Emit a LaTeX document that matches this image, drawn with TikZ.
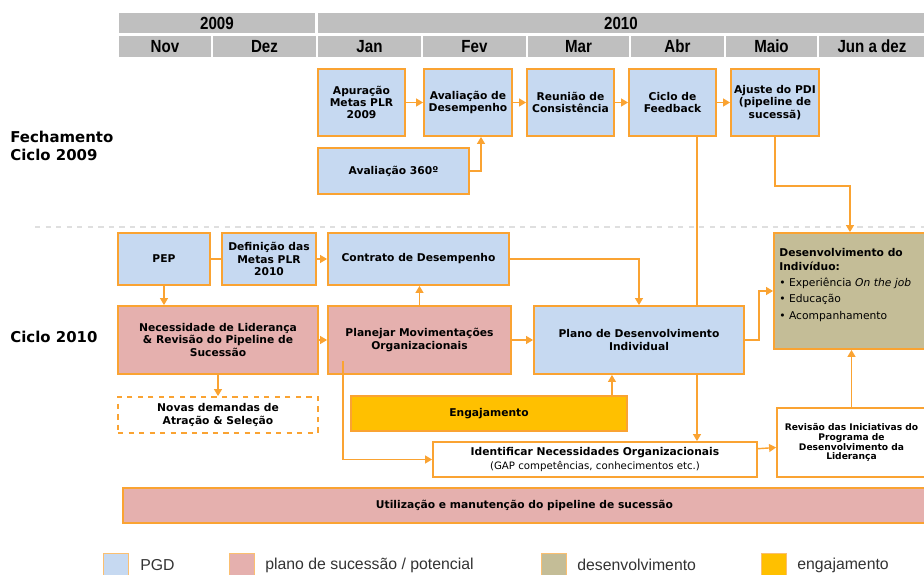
\documentclass[tikz,border=0pt]{standalone}
\usepackage{fontspec}
\setmainfont{DejaVu Sans}
\newfontfamily\hdrfont[FakeStretch=0.86]{Liberation Sans}
\newfontfamily\lgdfont{Liberation Sans}
\usetikzlibrary{arrows.meta,backgrounds}

\definecolor{pgdblue}{RGB}{198,217,241}
\definecolor{sucpink}{RGB}{229,176,174}
\definecolor{devkhaki}{RGB}{196,189,151}
\definecolor{enggold}{RGB}{255,192,0}
\definecolor{lineor}{RGB}{250,163,50}
\definecolor{hdrgray}{RGB}{191,191,191}

\newcommand\boxfont{\fontsize{6.1pt}{7pt}\selectfont\bfseries}

\tikzset{
  px/.style 2 args={minimum width=(#1)*0.02cm, minimum height=(#2)*0.02cm},
  box/.style={draw=lineor, line width=1pt, inner sep=1pt, align=center, font=\boxfont},
  pgd/.style={box, fill=pgdblue},
  suc/.style={box, fill=sucpink},
  dev/.style={box, fill=devkhaki},
  eng/.style={box, fill=enggold},
  blank/.style={box, fill=white},
  hdr/.style={fill=hdrgray, draw=white, line width=1.2pt, inner sep=0pt,
    font={\hdrfont\fontsize{10pt}{12pt}\selectfont\bfseries}},
  phase/.style={anchor=west, align=left, inner sep=0pt,
    font={\fontsize{8.5pt}{9.8pt}\selectfont\bfseries}},
  conn/.style={draw=lineor, line width=0.8pt, -{Triangle[length=4pt,width=4.5pt]}},
  link/.style={draw=lineor, line width=0.8pt},
  keybox/.style={draw=lineor!70, line width=0.5pt, px={25}{24}},
  keytext/.style={anchor=west, inner sep=0pt, text=black!80,
    font={\lgdfont\fontsize{9pt}{11pt}\selectfont}}
}

\begin{document}
\begin{tikzpicture}[x=0.02cm, y=-0.02cm]
\useasboundingbox (0,0) rectangle (924,575);

% header
\node[hdr, px={198}{22}] (y2009) at (217,23) {2009};
\node[hdr, px={608}{22}] (y2010) at (621,23) {2010};
\foreach \n/\t/\a/\b in {nov/Nov/118/212, dez/Dez/212/317, jan/Jan/317/422,
    fev/Fev/422/527, mar/Mar/527/630, abr/Abr/630/725, mai/Maio/725/818,
    jun/Jun a dez/818/926}
  \node[hdr, px={\b-\a}{23}] (m\n) at ({(\a+\b)/2},46.5) {\t};

% phases
\node[phase] (fech) at (10,146) {Fechamento\\Ciclo 2009};
\node[phase] (ciclo10) at (10,337) {Ciclo 2010};
\draw[gray!25, dashed, line width=0.6pt] (35,227) -- (924,227);

% fechamento 2009
\node[pgd, px={87}{67}] (apur) at (361.5,102.5) {Apuração\\Metas PLR\\2009};
\node[pgd, px={88}{67}] (avdes) at (468,102.5) {Avaliação de\\Desempenho};
\node[pgd, px={87}{67}] (reun) at (570.5,102.5) {Reunião de\\Consistência};
\node[pgd, px={87}{67}] (ciclo) at (672.5,102.5) {Ciclo de\\Feedback};
\node[pgd, px={88}{67}] (ajuste) at (775,102.5) {Ajuste do PDI\\(pipeline de\\sucessã)};
\node[pgd, px={151}{46}] (av360) at (393.5,171) {Avaliação 360º};

% ciclo 2010
\node[pgd, px={92}{52}] (pep) at (164,259) {PEP};
\node[pgd, px={94}{52}] (defmetas) at (269,259) {Definição das\\Metas PLR\\2010};
\node[pgd, px={181}{52}] (contrato) at (418.5,259) {Contrato de Desempenho};
\node[suc, px={200}{68}] (neces) at (218,340) {Necessidade de Liderança\\\& Revisão do Pipeline de\\Sucessão};
\node[suc, px={183}{68}] (planejar) at (419.5,340) {Planejar Movimentações\\Organizacionais};
\node[pgd, px={210}{68}] (plano) at (639,340) {Plano de Desenvolvimento\\Individual};
\node[dev, px={152}{116}] (desenv) at (850,291) {};
\node[anchor=north west, align=left, inner sep=0pt,
  font={\fontsize{6.1pt}{7.9pt}\selectfont}] (desenvtxt) at (779,248)
  {\textbf{Desenvolvimento do}\\\textbf{Indivíduo:}\\[1pt]
   • Experiência \textit{On the job}\\[1.5pt] • Educação\\[1.5pt] • Acompanhamento};
\node[blank, dashed, px={200}{36}] (novas) at (218,415) {Novas demandas de\\Atração \& Seleção};
\node[eng, px={276}{35}] (engaj) at (489,413.5) {Engajamento};
\node[blank, px={324}{35}, font={\fontsize{6.1pt}{7.8pt}\selectfont\bfseries}] (ident) at (595,459.5)
  {Identificar Necessidades Organizacionais\\{\mdseries\fontsize{5.8pt}{7pt}\selectfont (GAP competências, conhecimentos etc.)}};
\node[blank, px={149}{69}, font={\fontsize{5.2pt}{5.6pt}\selectfont\bfseries}] (revisao) at (851.5,442.5)
  {Revisão das Iniciativas do\\Programa de\\Desenvolvimento da\\Liderança};
\node[suc, px={803}{35}] (util) at (524.5,505.5) {Utilização e manutenção do pipeline de sucessão};

% connectors
\draw[conn] (apur) -- (avdes);
\draw[conn] (avdes) -- (reun);
\draw[conn] (reun) -- (ciclo);
\draw[conn] (ciclo) -- (ajuste);
\draw[conn] (av360.east) -| ([xshift=0.26cm]avdes.south);
\draw[conn] (ajuste.south) -- ++(0,49) -| (desenv.north);
\coordinate (fb) at ([xshift=0.49cm]ciclo.south);
\begin{scope}[on background layer]
  \draw[conn] (fb) -- (fb |- ident.north);
\end{scope}
\draw[link] (pep) -- (defmetas);
\draw[conn] (defmetas) -- (contrato);
\draw[conn] (pep.south) -- (pep.south |- neces.north);
\draw[conn] (neces) -- (planejar);
\draw[conn] (planejar.north) -- (planejar.north |- contrato.south);
\draw[conn] (contrato.east) -| (plano.north);
\draw[conn] (planejar) -- (plano);
\draw[conn] (plano.east) -- ++(14,0) |- (desenv.west);
\coordinate (en) at ([xshift=2.46cm]engaj.north);
\draw[conn] (en) -- (en |- plano.south);
\draw[conn] (neces) -- (novas);
\coordinate (pm) at ([xshift=-1.53cm,yshift=0.28cm]planejar.south);
\draw[conn] (pm) |- (ident.west);
\draw[conn] (ident) -- (revisao);
\draw[conn] (revisao.north) -- (revisao.north |- desenv.south);

% legend
\node[keybox, fill=pgdblue] (kpgd) at (116,565) {};
\node[keytext] (tpgd) at (140,565) {PGD};
\node[keybox, fill=sucpink] (ksuc) at (242,565) {};
\node[keytext] (tsuc) at (265,565) {plano de sucessão / potencial};
\node[keybox, fill=devkhaki] (kdev) at (554,565) {};
\node[keytext] (tdev) at (577,565) {desenvolvimento};
\node[keybox, fill=enggold] (keng) at (774,565) {};
\node[keytext] (teng) at (797,565) {engajamento};
\end{tikzpicture}
\end{document}
